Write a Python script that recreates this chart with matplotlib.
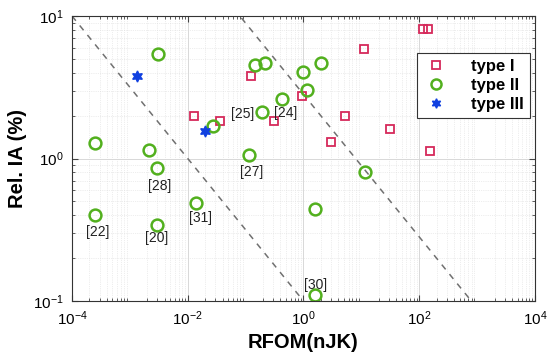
import numpy as np
import matplotlib.pyplot as plt

plt.rcParams['mathtext.fontset'] = 'cm'
plt.rcParams['font.family'] = ['Liberation Sans', 'DejaVu Sans']

# type I (red squares)
x1 = [0.013, 0.122, 0.036, 0.305, 0.93, 117, 144, 11.1, 5.2, 31.3, 3.0, 153]
y1 = [2.0, 3.79, 1.82, 1.82, 2.76, 8.1, 8.1, 5.9, 2.0, 1.6, 1.31, 1.12]

# type II (green circles)
x2 = [0.00306, 2.53e-4, 0.00211, 0.0273, 0.114, 0.144, 0.219, 0.19, 0.43, 1.0,
      1.15, 2.03, 11.6, 1.6, 1.6, 0.0030, 2.53e-4, 0.0030, 0.0137]
y2 = [5.41, 1.28, 1.14, 1.70, 1.05, 4.53, 4.65, 2.12, 2.63, 4.07,
      3.04, 4.68, 0.80, 0.443, 0.110, 0.853, 0.402, 0.341, 0.485]

# type III (blue stars)
x3 = [0.00134, 0.0199]
y3 = [3.79, 1.57]

# reference labels
ref_text = ['[25]', '[24]', '[27]', '[28]', '[31]', '[22]', '[20]', '[30]']
ref_x = [0.089, 0.49, 0.129, 0.0033, 0.0169, 2.78e-4, 0.00294, 1.63]
ref_y = [2.05, 2.1, 0.80, 0.645, 0.38, 0.303, 0.278, 0.129]

fig = plt.figure(figsize=(5.5, 3.62), dpi=100)
ax = fig.add_axes([0.1309, 0.1685, 0.8418, 0.7873])

# dashed guide lines, slope -1/2 in log-log
xl = np.logspace(-4, 4, 50)
ax.plot(xl, 0.1 / np.sqrt(xl), '--', color='#707070', lw=1.1, dashes=(4, 4))
ax.plot(xl, 10**0.45 / np.sqrt(xl), '--', color='#707070', lw=1.1, dashes=(4, 4))

ax.plot(x1, y1, 's', mfc='none', mec='#D6295A', mew=1.3, ms=6, ls='none', label='type I')
ax.plot(x2, y2, 'o', mfc='none', mec='#52B01E', mew=1.8, ms=8.5, ls='none', label='type II')
ax.plot(x3, y3, marker=(6, 1, 0), color='#1040E0', ms=8, ls='none', label='type III')

for t, xx, yy in zip(ref_text, ref_x, ref_y):
    ax.text(xx, yy, t, fontsize=10, ha='center', va='center', color='#222222')

ax.set_xscale('log')
ax.set_yscale('log')
ax.set_xlim(1e-4, 1e4)
ax.set_ylim(0.1, 10)
ax.set_xticks([1e-4, 1e-2, 1e0, 1e2, 1e4])
ax.set_yticks([0.1, 1, 10])

ax.grid(True, which='major', color='#d8d8d8', lw=0.7)
ax.grid(True, which='minor', color='#dddddd', lw=0.5, ls=':')
ax.set_axisbelow(True)
ax.tick_params(which='both', direction='in', top=True, right=True, color='#444444')
ax.tick_params(which='major', length=4, labelsize=11, pad=6)
ax.tick_params(which='minor', length=2)
for s in ax.spines.values():
    s.set_color('#333333')
    s.set_linewidth(0.8)

ax.set_xlabel('RFOM(nJK)', fontsize=14.5, fontweight='bold', labelpad=4)
ax.set_ylabel('Rel. IA (%)', fontsize=14.5, fontweight='bold', labelpad=4)

leg = ax.legend(loc='upper right', bbox_to_anchor=(0.989, 0.870), borderaxespad=0,
                prop={'weight': 'bold', 'size': 12}, fancybox=False,
                edgecolor='#333333', framealpha=1, handletextpad=1.3,
                handlelength=1.6, borderpad=0.35, labelspacing=0.25, markerscale=0.85)
leg.get_frame().set_linewidth(0.8)

fig.savefig('out.png', dpi=100)
